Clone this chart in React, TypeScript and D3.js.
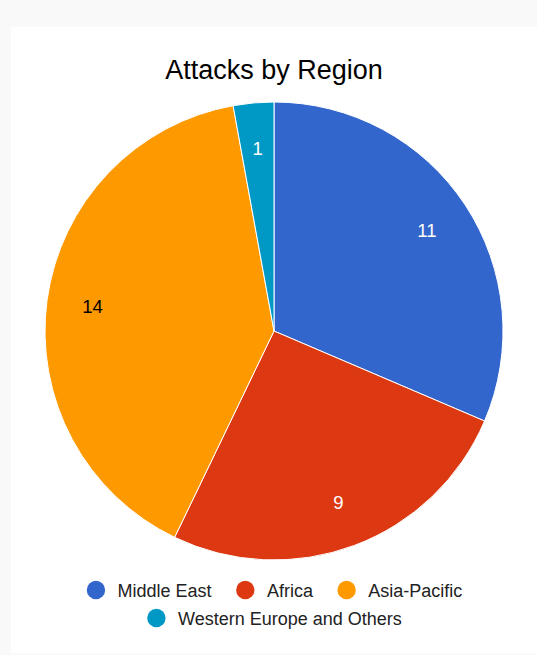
import React, { useEffect, useRef } from 'react';
import * as d3 from 'd3';

const regions = ['Middle East', 'Africa', 'Asia-Pacific', 'Western Europe and Others'];
const attacks = [11, 9, 14, 1];
const sliceColors = ['#3366cc', '#dc3912', '#ff9900', '#0099c6'];
const labelColors = ['#ffffff', '#ffffff', '#000000', '#ffffff'];

const W = 537;
const H = 655;
const FONT = 'Arial, "Liberation Sans", sans-serif';

const App: React.FC = () => {
  const svgRef = useRef<SVGSVGElement>(null);

  useEffect(() => {
    document.body.style.margin = '0';
    if (!svgRef.current) return;
    const svg = d3.select(svgRef.current);
    svg.selectAll('*').remove();

    // page + card
    svg.append('rect').attr('width', W).attr('height', H).attr('fill', '#f9f9f9');
    svg.append('rect')
      .attr('x', 11).attr('y', 27)
      .attr('width', W - 11).attr('height', 626)
      .attr('fill', '#ffffff');

    // title
    svg.append('text')
      .attr('x', 274).attr('y', 79)
      .attr('text-anchor', 'middle')
      .attr('font-family', FONT)
      .attr('font-size', 27)
      .attr('fill', '#000')
      .text('Attacks by Region');

    // pie
    const cx = 274, cy = 331, r = 229;
    const data = regions.map((name, i) => ({ name, value: attacks[i], i }));
    const pie = d3.pie<any>().value(d => d.value).sort(null);
    const arcs = pie(data);
    const arc = d3.arc<any>().innerRadius(0).outerRadius(r);
    const labelArc = d3.arc<any>().innerRadius(r * 0.8).outerRadius(r * 0.8);

    const g = svg.append('g').attr('transform', `translate(${cx},${cy})`);
    g.selectAll('path.slice')
      .data(arcs)
      .enter()
      .append('path')
      .attr('class', 'slice')
      .attr('d', arc)
      .attr('fill', d => sliceColors[d.data.i])
      .attr('stroke', '#ffffff')
      .attr('stroke-width', 1);

    g.selectAll('text.lbl')
      .data(arcs)
      .enter()
      .append('text')
      .attr('class', 'lbl')
      .attr('x', d => labelArc.centroid(d)[0])
      .attr('y', d => labelArc.centroid(d)[1] + 6.5)
      .attr('text-anchor', 'middle')
      .attr('font-family', FONT)
      .attr('font-size', 18.5)
      .attr('fill', d => labelColors[d.data.i])
      .text(d => String(d.data.value));

    // legend, wrapped into centred rows
    const dotR = 9.2;
    const dotGap = 12.4;
    const itemGap = 24.5;
    const maxRow = 440;
    const measure = svg.append('text')
      .attr('font-family', FONT).attr('font-size', 18).attr('visibility', 'hidden');
    const items = regions.map((name, i) => {
      measure.text(name);
      const tw = (measure.node() as SVGTextElement).getComputedTextLength();
      return { name, i, w: dotR * 2 + dotGap + tw };
    });
    measure.remove();

    const rows: typeof items[] = [];
    let cur: typeof items = [];
    let curW = 0;
    items.forEach(it => {
      const add = cur.length ? itemGap + it.w : it.w;
      if (cur.length && curW + add > maxRow) {
        rows.push(cur);
        cur = [it];
        curW = it.w;
      } else {
        cur.push(it);
        curW += add;
      }
    });
    if (cur.length) rows.push(cur);

    const rowY = [590, 618];
    rows.forEach((row, ri) => {
      const total = d3.sum(row, d => d.w) + itemGap * (row.length - 1);
      let x = 274.5 - total / 2;
      const y = rowY[ri] ?? 590 + ri * 28;
      row.forEach(it => {
        svg.append('circle')
          .attr('cx', x + dotR).attr('cy', y)
          .attr('r', dotR)
          .attr('fill', sliceColors[it.i]);
        svg.append('text')
          .attr('x', x + dotR * 2 + dotGap)
          .attr('y', y + 6.5)
          .attr('font-family', FONT)
          .attr('font-size', 18)
          .attr('fill', '#222222')
          .text(it.name);
        x += it.w + itemGap;
      });
    });
  }, []);

  return <svg ref={svgRef} width={W} height={H} style={{ display: 'block' }} />;
};

export default App;
